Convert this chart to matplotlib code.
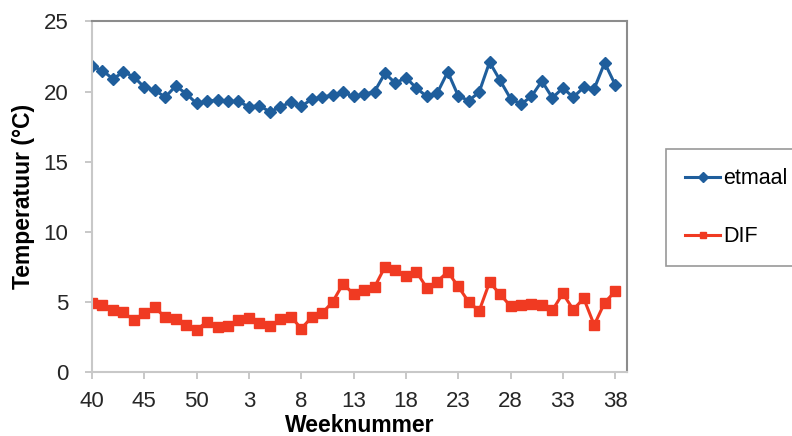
import numpy as np
import matplotlib
matplotlib.use("Agg")
import matplotlib.pyplot as plt

plt.rcParams['font.family'] = ['Liberation Sans', 'DejaVu Sans']

# weeknummers: week 40 t/m 52, daarna 1 t/m 38
weeks = list(range(40, 53)) + list(range(1, 39))

etmaal = [21.8, 21.5, 20.9, 21.4, 21.05, 20.3, 20.1, 19.6, 20.4, 19.85,
          19.15, 19.3, 19.4, 19.3, 19.3, 18.9, 19.0, 18.55, 18.9, 19.25,
          18.95, 19.45, 19.6, 19.75, 19.95, 19.65, 19.8, 20.0, 21.3, 20.6,
          21.0, 20.25, 19.65, 19.9, 21.4, 19.7, 19.35, 19.95, 22.1, 20.8,
          19.5, 19.1, 19.65, 20.75, 19.55, 20.25, 19.6, 20.3, 20.2, 22.05,
          20.5]

dif = [4.9, 4.8, 4.45, 4.25, 3.7, 4.2, 4.6, 3.9, 3.75, 3.35,
       3.0, 3.6, 3.2, 3.3, 3.7, 3.85, 3.5, 3.25, 3.75, 3.95,
       3.1, 3.9, 4.2, 5.0, 6.3, 5.55, 5.85, 6.05, 7.5, 7.25,
       6.85, 7.15, 6.0, 6.45, 7.15, 6.1, 5.0, 4.35, 6.4, 5.55,
       4.7, 4.8, 4.85, 4.8, 4.4, 5.6, 4.45, 5.25, 3.35, 4.95,
       5.75]

blue = '#1F5E9C'
red = '#F03A22'

x = np.arange(len(weeks))

fig = plt.figure(figsize=(7.92, 4.36), dpi=100)
ax = fig.add_axes([0.1162, 0.1468, 0.675, 0.804])

ax.plot(x, etmaal, color=blue, lw=2.2, marker='D', ms=6.5, label='etmaal')
ax.plot(x, dif, color=red, lw=2.2, marker='s', ms=7, label='DIF')

ax.set_xlim(0, 51.1)
ax.set_ylim(0, 25)
ax.set_yticks(range(0, 26, 5))
ticks = x[::5]
ax.set_xticks(ticks)
ax.set_xticklabels([str(weeks[i]) for i in ticks])

ax.tick_params(axis='both', labelsize=16, length=5, width=1.2,
               color='#bfbfbf', labelcolor='#262626')
ax.tick_params(axis='y', pad=12)
ax.tick_params(axis='x', pad=9)

for s in ['left', 'bottom']:
    ax.spines[s].set_color('#c8c8c8')
    ax.spines[s].set_linewidth(1.5)
for s in ['top', 'right']:
    ax.spines[s].set_color('#8c8c8c')
    ax.spines[s].set_linewidth(1.5)

ax.set_ylabel('Temperatuur (°C)', fontsize=16.5, fontweight='bold', labelpad=6)
ax.set_xlabel('Weeknummer', fontsize=16.5, fontweight='bold', labelpad=1)

leg = ax.legend(loc='upper left', bbox_to_anchor=(0.841, 0.658),
                bbox_transform=fig.transFigure, fontsize=15.5,
                frameon=True, fancybox=False, edgecolor='#7f7f7f',
                handlelength=1.6, labelspacing=1.7, borderpad=0.9,
                handletextpad=0.15, borderaxespad=0)
leg.get_frame().set_linewidth(1.2)
for line in leg.get_lines():
    line.set_markersize(5)

fig.savefig('out.png', dpi=100)
